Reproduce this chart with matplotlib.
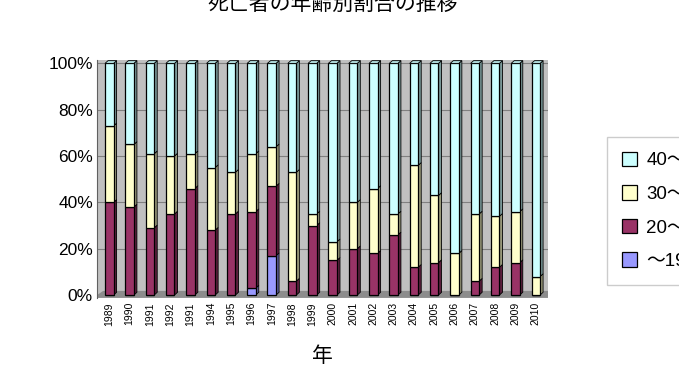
import numpy as np
import matplotlib.pyplot as plt
from matplotlib.patches import Polygon

plt.rcParams['font.family'] = ['Liberation Sans', 'Noto Sans CJK JP', 'DejaVu Sans']

# 年（元の図のラベルのまま、1991 が二回）
years = ['1989', '1990', '1991', '1992', '1991', '1994', '1995', '1996', '1997',
         '1998', '1999', '2000', '2001', '2002', '2003', '2004', '2005', '2006',
         '2007', '2008', '2009', '2010']
# 年齢層ごとの割合 (%)
age_u19 = [0, 0, 0, 0, 0, 0, 0, 3, 17, 0, 0, 0, 0, 0, 0, 0, 0, 0, 0, 0, 0, 0]
age_20s = [40, 38, 29, 35, 46, 28, 35, 33, 30, 6, 30, 15, 20, 18, 26, 12, 14, 0, 6, 12, 14, 0]
age_30s = [33, 27, 32, 25, 15, 27, 18, 25, 17, 47, 5, 8, 20, 28, 9, 44, 29, 18, 29, 22, 22, 8]
age_40s = [100 - a - b - c for a, b, c in zip(age_u19, age_20s, age_30s)]

series = [age_u19, age_20s, age_30s, age_40s]
labels = ['～19', '20～29', '30～39', '40～49']
colors = ['#9999FF', '#993366', '#FFFFCC', '#CCFFFF']

def darker(c, f=0.6):
    r, g, b = [int(c[i:i + 2], 16) / 255 for i in (1, 3, 5)]
    return (r * f, g * f, b * f)

fig = plt.figure(figsize=(6.79, 3.70), dpi=100)
ax = fig.add_axes([0.143, 0.195, 0.664, 0.643])
ax.set_facecolor('#C0C0C0')

x = np.arange(len(years))
w = 0.42
dx, dy = 0.15, 1.2

bottom = np.zeros(len(years))
handles = []
for vals, col, lab in zip(series, colors, labels):
    vals = np.array(vals, dtype=float)
    h = ax.bar(x, vals, w, bottom=bottom, color=col, edgecolor='black',
               linewidth=0.9, zorder=3, label=lab)
    handles.append(h)
    for xi, b0, v in zip(x, bottom, vals):
        if v <= 0:
            continue
        side = Polygon([(xi + w / 2, b0), (xi + w / 2 + dx, b0 + dy),
                        (xi + w / 2 + dx, b0 + v + dy), (xi + w / 2, b0 + v)],
                       closed=True, facecolor=darker(col), edgecolor='black',
                       linewidth=0.6, zorder=2)
        ax.add_patch(side)
    bottom = bottom + vals

# 上面
for xi, top in zip(x, bottom):
    topface = Polygon([(xi - w / 2, top), (xi - w / 2 + dx, top + dy),
                       (xi + w / 2 + dx, top + dy), (xi + w / 2, top)],
                      closed=True, facecolor=darker(colors[-1], 0.85),
                      edgecolor='black', linewidth=0.6, zorder=4)
    ax.add_patch(topface)

# 床
floor = Polygon([(-0.6, 0), (-0.6 + dx * 2, dy * 1.5), (len(years) - 0.4 + dx * 2, dy * 1.5),
                 (len(years) - 0.4, 0), (len(years) - 0.4, -1.2), (-0.6, -1.2)],
                closed=True, facecolor='#8C8C8C', edgecolor='none', zorder=1)
ax.add_patch(floor)

ax.set_xlim(-0.6, len(years) - 0.4)
ax.set_ylim(-1.2, 101.5)
ax.set_yticks([0, 20, 40, 60, 80, 100])
ax.set_yticklabels(['0%', '20%', '40%', '60%', '80%', '100%'], fontsize=12.5)
ax.yaxis.grid(True, color='#808080', linewidth=0.8, zorder=0)
ax.set_axisbelow(True)
ax.set_xticks(x)
ax.set_xticklabels(years, rotation=90, fontsize=7.5)
ax.tick_params(axis='both', length=0, pad=3)
for s in ['top', 'right', 'bottom']:
    ax.spines[s].set_visible(False)
ax.spines['left'].set_color('#606060')

ax.set_xlabel('年', fontsize=15, labelpad=15)
fig.text(0.49, 0.99, '死亡者の年齢別割合の推移', ha='center', va='center', fontsize=15)

leg = fig.legend(handles[::-1], labels[::-1], loc='center left',
                 bbox_to_anchor=(0.88, 0.43), fontsize=13.5, frameon=True,
                 fancybox=False, edgecolor='#C0C0C0', handlelength=0.8,
                 handleheight=0.8, handletextpad=0.5, labelspacing=0.85,
                 borderpad=0.8)

fig.savefig('out.png', dpi=100)
